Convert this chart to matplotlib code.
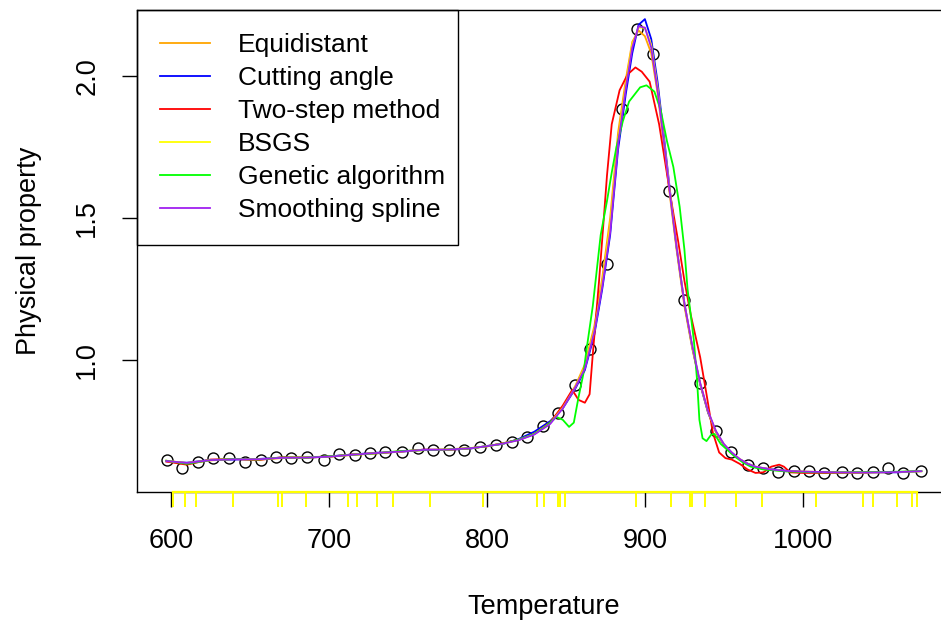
import matplotlib
matplotlib.use("Agg")
import matplotlib.pyplot as plt
from matplotlib import transforms
from matplotlib.patches import Rectangle

plt.rcParams['font.family'] = ['Liberation Sans', 'DejaVu Sans']

# Observed data points (circles)
temp = [597.3, 607.2, 616.9, 626.6, 636.9, 647.0, 656.8, 666.5, 676.1, 685.9,
        696.8, 706.5, 716.5, 726.0, 735.6, 746.4, 756.3, 766.0, 775.9, 785.6,
        795.4, 805.9, 815.8, 825.5, 835.3, 845.1, 855.7, 865.2, 875.8, 885.3,
        894.7, 905.3, 915.4, 924.7, 934.8, 944.9, 954.2, 965.2, 975.0, 984.4,
        994.3, 1004.0, 1013.5, 1024.5, 1034.4, 1044.5, 1054.0, 1063.5, 1074.7]
prop = [0.648, 0.621, 0.640, 0.654, 0.654, 0.641, 0.648, 0.660, 0.654, 0.660,
        0.648, 0.668, 0.666, 0.672, 0.678, 0.678, 0.690, 0.684, 0.684, 0.684,
        0.695, 0.701, 0.713, 0.730, 0.768, 0.813, 0.912, 1.040, 1.338, 1.885,
        2.167, 2.079, 1.595, 1.211, 0.918, 0.750, 0.678, 0.631, 0.620, 0.607,
        0.611, 0.611, 0.604, 0.607, 0.604, 0.607, 0.619, 0.604, 0.611]

# Fitted curves
t_fit = [597, 610, 625, 640, 655, 670, 685, 700, 715, 730, 745, 760, 775, 790,
         800, 810, 820, 830, 840, 848, 856, 862, 868, 873, 878, 883, 888, 892,
         896, 900, 904, 908, 912, 916, 920, 925, 930, 935, 940, 945, 950, 955,
         960, 965, 970, 980, 990, 1000, 1020, 1040, 1060, 1075]
purple_y = [0.645, 0.638, 0.648, 0.651, 0.651, 0.656, 0.657, 0.660, 0.667, 0.673,
            0.678, 0.684, 0.685, 0.690, 0.697, 0.706, 0.718, 0.738, 0.775, 0.830,
            0.905, 0.970, 1.100, 1.260, 1.450, 1.760, 1.960, 2.100, 2.175, 2.170,
            2.100, 1.950, 1.770, 1.580, 1.400, 1.200, 1.050, 0.920, 0.820, 0.750,
            0.705, 0.675, 0.652, 0.635, 0.625, 0.615, 0.610, 0.608, 0.605, 0.604,
            0.606, 0.609]
orange_y = [0.646, 0.637, 0.647, 0.652, 0.650, 0.655, 0.658, 0.661, 0.666, 0.672,
            0.679, 0.683, 0.686, 0.691, 0.696, 0.707, 0.720, 0.742, 0.780, 0.835,
            0.910, 0.985, 1.120, 1.290, 1.500, 1.800, 1.990, 2.120, 2.160, 2.140,
            2.080, 1.940, 1.760, 1.570, 1.390, 1.190, 1.040, 0.915, 0.815, 0.745,
            0.700, 0.672, 0.650, 0.634, 0.624, 0.614, 0.609, 0.607, 0.605, 0.605,
            0.606, 0.609]
blue_y = [0.644, 0.639, 0.649, 0.650, 0.652, 0.657, 0.656, 0.661, 0.668, 0.674,
          0.677, 0.685, 0.684, 0.689, 0.698, 0.705, 0.722, 0.748, 0.785, 0.830,
          0.900, 0.965, 1.090, 1.250, 1.440, 1.740, 1.940, 2.080, 2.180, 2.200,
          2.130, 1.980, 1.790, 1.590, 1.400, 1.200, 1.045, 0.915, 0.815, 0.748,
          0.702, 0.674, 0.651, 0.636, 0.624, 0.616, 0.611, 0.607, 0.604, 0.605,
          0.605, 0.610]
yellow_y = [0.645, 0.638, 0.648, 0.652, 0.651, 0.656, 0.657, 0.660, 0.667, 0.673,
            0.678, 0.684, 0.685, 0.690, 0.697, 0.706, 0.719, 0.740, 0.778, 0.832,
            0.905, 0.975, 1.105, 1.270, 1.470, 1.770, 1.970, 2.110, 2.170, 2.170,
            2.110, 1.960, 1.775, 1.585, 1.400, 1.200, 1.045, 0.918, 0.818, 0.748,
            0.704, 0.674, 0.652, 0.635, 0.625, 0.615, 0.610, 0.608, 0.605, 0.604,
            0.606, 0.609]

t_red = [597, 610, 625, 640, 655, 670, 685, 700, 715, 730, 745, 760, 775, 790,
         800, 810, 820, 830, 840, 848, 854, 858, 862, 865, 867, 871, 874, 876,
         879, 884, 889, 894, 898, 903, 909, 913, 917, 921, 925, 929, 935, 939,
         943, 947, 951, 955, 960, 965, 970, 975, 980, 985, 988, 992, 1000, 1020,
         1041]
red_y = [0.643, 0.632, 0.650, 0.652, 0.648, 0.658, 0.657, 0.660, 0.668, 0.672,
         0.678, 0.685, 0.684, 0.690, 0.697, 0.707, 0.720, 0.740, 0.780, 0.840,
         0.895, 0.860, 0.850, 0.880, 1.020, 1.280, 1.500, 1.650, 1.830, 1.950,
         2.005, 2.030, 2.015, 1.980, 1.830, 1.690, 1.550, 1.420, 1.280, 1.160,
         1.010, 0.880, 0.745, 0.675, 0.655, 0.650, 0.635, 0.615, 0.603, 0.605,
         0.625, 0.632, 0.625, 0.605, 0.603, 0.603, 0.603]

t_green = [597, 610, 625, 640, 655, 670, 685, 700, 715, 730, 745, 760, 775, 790,
           800, 810, 820, 830, 838, 844, 848, 852, 855, 858, 861, 863, 867, 872,
           876, 879, 882, 886, 890, 897, 901, 906, 910, 914, 918, 922, 925, 927,
           931, 933, 934.5, 936.5, 939, 942, 944, 948, 952, 957, 962, 967, 975,
           990, 1010, 1040, 1075]
green_y = [0.646, 0.635, 0.648, 0.652, 0.650, 0.657, 0.657, 0.661, 0.667, 0.672,
           0.680, 0.683, 0.685, 0.690, 0.697, 0.706, 0.720, 0.740, 0.770, 0.800,
           0.790, 0.765, 0.780, 0.870, 0.950, 1.035, 1.190, 1.440, 1.560, 1.660,
           1.750, 1.840, 1.910, 1.960, 1.967, 1.945, 1.880, 1.770, 1.680, 1.540,
           1.390, 1.250, 1.070, 0.930, 0.790, 0.725, 0.715, 0.738, 0.740, 0.705,
           0.685, 0.660, 0.640, 0.625, 0.615, 0.608, 0.605, 0.605, 0.609]

# Knot positions shown as rug
knots = [601.5, 608.9, 615.6, 639.4, 667.9, 670.4, 685.3, 712.2, 717.5, 730.6,
         740.3, 763.9, 797.7, 832.0, 836.4, 845.1, 846.2, 849.4, 894.3, 916.6,
         928.5, 929.6, 937.8, 957.4, 973.9, 1008.2, 1037.8, 1044.1, 1059.3,
         1068.8, 1072.0]

fig = plt.figure(figsize=(9.41, 6.23), dpi=100)
ax = fig.add_axes([0.1453, 0.2108, 0.8657, 0.7731])

ax.plot(temp, prop, linestyle="none", marker="o", markersize=7.9,
        markerfacecolor="none", markeredgecolor="black", markeredgewidth=1.0)

lw = 1.3
ax.plot(t_fit, orange_y, color="#FFA500", lw=lw, label="Equidistant")
ax.plot(t_fit, blue_y, color="#0000FF", lw=lw, label="Cutting angle")
ax.plot(t_red, red_y, color="#FF0000", lw=lw, label="Two-step method")
ax.plot(t_fit, yellow_y, color="#FFFF00", lw=lw, label="BSGS")
ax.plot(t_green, green_y, color="#00FF00", lw=lw, label="Genetic algorithm")
ax.plot(t_fit, purple_y, color="#A020F0", lw=lw, label="Smoothing spline")

ax.set_xlim(578.3, 1094)
ax.set_ylim(0.537, 2.232)

ax.set_xticks([600, 700, 800, 900, 1000])
ax.set_yticks([1.0, 1.5, 2.0])
ax.set_yticklabels(["1.0", "1.5", "2.0"], rotation=90, va="center")
ax.tick_params(axis="both", direction="out", length=10.8, width=1.0,
               labelsize=19.5, colors="black")
ax.tick_params(axis="x", pad=15)
ax.tick_params(axis="y", pad=15.5)

# rug along the bottom axis
trans = transforms.blended_transform_factory(ax.transData, ax.transAxes)
ax.vlines(knots, -0.031, 0, transform=trans, color="#FFFF00", lw=1.4,
          clip_on=False, zorder=5)
ax.plot([min(knots), max(knots)], [0, 0], transform=trans, color="#FFFF00",
        lw=1.6, clip_on=False, zorder=5)

for s in ax.spines.values():
    s.set_color("black")
    s.set_linewidth(1.0)

ax.set_xlabel("Temperature", fontsize=19.5, labelpad=29)
ax.set_ylabel("Physical property", fontsize=19.5, labelpad=23.5)

fs = 19
bpad = 0.88
leg = ax.legend(loc="upper left", bbox_to_anchor=(0, 1), borderaxespad=0,
                fontsize=fs, frameon=False, handlelength=1.9,
                handletextpad=1.05, labelspacing=0.34, borderpad=bpad)
for line in leg.get_lines():
    line.set_linewidth(1.3)

# legend frame: R draws less padding on the right than on the left
fig.canvas.draw()
bb = leg.get_window_extent()
W, H = fig.bbox.width, fig.bbox.height
trim = (bpad - 0.5) * fs * fig.dpi / 72
fig.add_artist(Rectangle((bb.x0 / W, bb.y0 / H), (bb.width - trim) / W,
                         bb.height / H, transform=fig.transFigure,
                         fill=False, edgecolor="black", linewidth=1.0))

fig.savefig("out.png", dpi=100)
